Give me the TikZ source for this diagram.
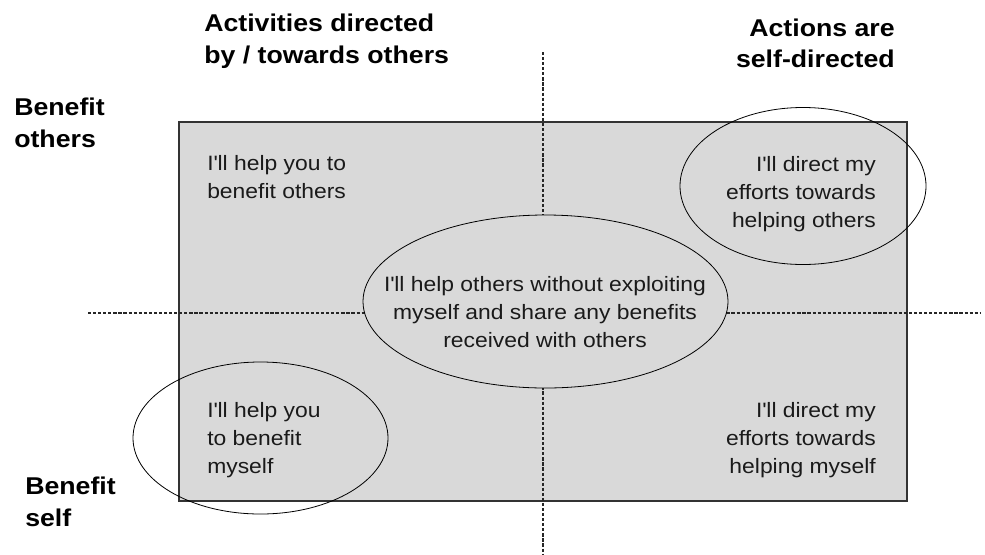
\documentclass[tikz,border=0pt]{standalone}
\usepackage{fontspec}
\setmainfont{Liberation Sans}[FakeStretch=1.1]
\usetikzlibrary{shapes.geometric}
\definecolor{boxgray}{HTML}{D9D9D9}
\definecolor{edgegray}{HTML}{333333}
\definecolor{inktext}{HTML}{1A1A1A}
\newcommand{\apos}{\textquotesingle}
\tikzset{
  headtext/.style={inner sep=0pt, font=\fontsize{18.2}{23.5}\selectfont\bfseries, text=black},
  celltext/.style={inner sep=0pt, font=\fontsize{15.6}{21}\selectfont, text=inktext},
  axisline/.style={draw=black!85, line width=1pt, dash pattern=on 2.4pt off 1.4pt},
  ring/.style={draw=black, line width=0.6pt, ellipse, inner sep=0pt},
  mainbox/.style={draw=edgegray, fill=boxgray, line width=1.4pt}
}
\begin{document}
\begin{tikzpicture}[x=0.75pt, y=-0.75pt]
\useasboundingbox (0,0) rectangle (985,554);
% main box
\draw[mainbox] (179,122) rectangle (907,501);
% axes
\coordinate (vtop) at (543,52);
\coordinate (vbot) at (543,554);
\coordinate (hleft) at (88,313);
\coordinate (hright) at (980,313);
\draw[axisline] (vtop) -- (vbot);
\draw[axisline] (hleft) -- (hright);
% ellipses
\node[ring, fill=boxgray, minimum width=365*0.75pt, minimum height=173*0.75pt] (midring) at (545.5,301.5) {};
\node[ring, minimum width=246*0.75pt, minimum height=157*0.75pt] (trring) at (803,186) {};
\node[ring, minimum width=255*0.75pt, minimum height=152*0.75pt] (blring) at (260.5,438) {};
% headings (base anchor = baseline of last line)
\node[headtext, anchor=base west, align=left] (hact) at (204,63) {Activities directed\\by / towards others};
\node[headtext, anchor=base east, align=right] (hself) at (895,67.5) {Actions are\\self-directed};
\node[headtext, anchor=base west, align=left] (hbo) at (14,147) {Benefit\\others};
\node[headtext, anchor=base west, align=left] (hbs) at (25,526) {Benefit\\self};
% cell texts
\node[celltext, anchor=base west, align=left] (ctl) at (207,198) {I\apos ll help you to\\benefit others};
\node[celltext, anchor=base east, align=right] (ctr) at (876,227) {I\apos ll direct my\\efforts towards\\helping others};
\node[celltext, anchor=base, align=center] (cmid) at (545,347) {I\apos ll help others without exploiting\\myself and share any benefits\\received with others};
\node[celltext, anchor=base west, align=left] (cbl) at (207,473) {I\apos ll help you\\to benefit\\myself};
\node[celltext, anchor=base east, align=right] (cbr) at (876,473) {I\apos ll direct my\\efforts towards\\helping myself};
\end{tikzpicture}
\end{document}
